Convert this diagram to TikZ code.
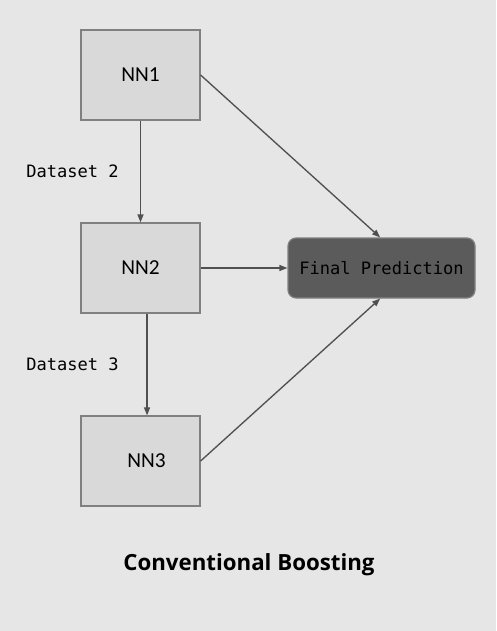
\documentclass[tikz,border=0pt]{standalone}
\usepackage{fontspec}
\setmainfont{Open Sans}
\newfontfamily\boxfont{Carlito}
\newfontfamily\codefont{DejaVu Sans Mono}
\usetikzlibrary{arrows.meta}

\definecolor{pagebg}{RGB}{230,230,230}
\definecolor{boxfill}{RGB}{217,217,217}
\definecolor{boxline}{RGB}{128,128,128}
\definecolor{darkfill}{RGB}{91,91,91}
\definecolor{wire}{RGB}{80,80,80}

\tikzset{
  nnbox/.style={draw=boxline, fill=boxfill, line width=0.9pt, minimum width=89.25pt, minimum height=67.5pt, inner sep=0pt, font=\boxfont\fontsize{16pt}{19pt}\selectfont},
  predbox/.style={draw=boxline, fill=darkfill, line width=0.9pt, rounded corners=6pt, minimum width=140.25pt, minimum height=45pt, inner sep=0pt, font=\codefont\fontsize{12.8pt}{15pt}\selectfont},
  datatext/.style={anchor=west, inner sep=0pt, font=\codefont\fontsize{12.8pt}{15pt}\selectfont},
  wirearrow/.style={draw=wire, line width=1pt, -{Triangle[length=6pt,width=4.5pt]}}
}

\begin{document}
\begin{tikzpicture}[x=0.75pt,y=0.75pt,yscale=-1,xscale=1]
%set diagram left start at 0, and has height of 631
\fill [pagebg] (0,0) rectangle (496,631);
\useasboundingbox (0,0) rectangle (496,631);

%Shape: Rectangle [id:nn1]
\node [nnbox] (nn1) at (140.5,75) {NN1};
%Shape: Rectangle [id:nn2]
\node [nnbox] (nn2) at (140.5,268) {NN2};
%Shape: Rectangle [id:nn3]
\node [nnbox] (nn3) at (140.5,461) {\hspace{9pt}NN3};
%Shape: Rounded Rectangle [id:final]
\node [predbox] (final) at (381.5,268) {Final Prediction};

% Text Node
\node [datatext] (data2) at (26,171) {Dataset 2};
% Text Node
\node [datatext] (data3) at (26,364) {Dataset 3};
% Text Node
\node [inner sep=0pt, font=\bfseries\fontsize{16.7pt}{20pt}\selectfont] (title) at (249,565) {Conventional Boosting};

%Straight Lines [id:arrows]
\draw [wirearrow] (nn1.south) -- (nn2.north);
\draw [wirearrow] ([xshift=4.9pt]nn2.south) -- ([xshift=4.9pt]nn3.north);
\draw [wirearrow] (nn1.east) -- ([xshift=-1pt]final.north);
\draw [wirearrow] (nn2.east) -- (final.west);
\draw [wirearrow] (nn3.east) -- ([xshift=-1pt]final.south);

\end{tikzpicture}
\end{document}
